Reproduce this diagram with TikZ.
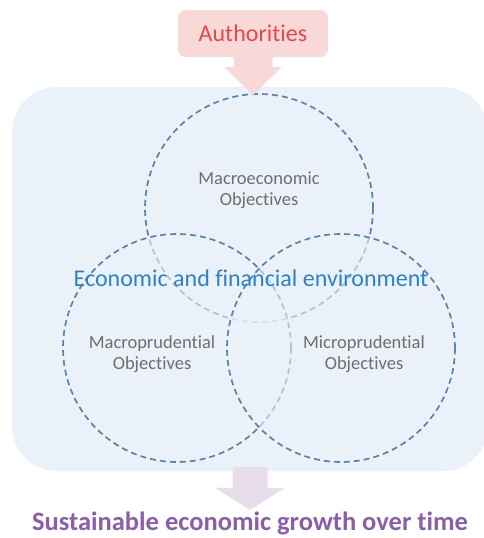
\documentclass[tikz,border=0pt]{standalone}
\usepackage{fontspec}
\setmainfont{Carlito}[Ligatures={NoCommon}]
\usepackage{xcolor}
\usetikzlibrary{positioning,calc}

\definecolor{envbg}{HTML}{EBF1F8}
\definecolor{ringblue}{HTML}{5A83AC}
\definecolor{labelgrey}{HTML}{6E6E6E}
\definecolor{envblue}{HTML}{2B83C6}
\definecolor{authred}{HTML}{E6474B}
\definecolor{authpink}{HTML}{F9D8D8}
\definecolor{goalpurple}{HTML}{8C5DA8}
\definecolor{goallilac}{HTML}{E8DEEB}

\begin{document}
\begin{tikzpicture}[
  x=1pt, y=-1pt,
  env/.style={fill=envbg, rounded corners=45pt, minimum width=476pt,
              minimum height=384pt, inner sep=0pt},
  ring/.style={circle, draw=ringblue, line width=1.7pt, dash pattern=on 6pt off 4pt,
               fill=envbg, fill opacity=0.6, minimum size=228pt, inner sep=0pt},
  obj/.style={text=labelgrey, align=center, font=\fontsize{18.5}{20.5}\selectfont},
  authbox/.style={fill=authpink, rounded corners=8pt, minimum width=150pt,
                  minimum height=47pt, text=authred, font=\fontsize{24}{28}\selectfont},
]
\useasboundingbox (0,0) rectangle (484,538);

% background and circles
\node[env] (envbox) at (250,279) {};
\node[ring] (macrocirc) at (259,208) {};
\node[ring] (leftcirc) at (177,348) {};
\node[ring] (rightcirc) at (341,348) {};

\node[obj] (macro) at (259,190) {Macroeconomic\\Objectives};
\node[obj] (macropru) at (152,354) {Macroprudential\\Objectives};
\node[obj] (micropru) at (364,354) {Microprudential\\Objectives};
\node[text=envblue, font=\fontsize{24}{28}\selectfont] (envtext) at (251,278)
  {Economic and financial environment};

% authorities on top
\node[authbox] (auth) at (253,33.5) {Authorities};
\fill[authpink] ($(auth.south)+(-19.5,0)$) -- ++(0,10) -- ++(-9,0)
  -- ($(auth.south)+(0,38)$) -- ($(auth.south)+(28.5,10)$) -- ++(-9,0)
  -- ($(auth.south)+(19.5,0)$) -- cycle;

% goal at the bottom
\node[text=goalpurple, font=\bfseries\fontsize{26.5}{30}\selectfont] (goal) at (250,523)
  {Sustainable economic growth over time};
\coordinate (tip) at ($(goal.north)+(0,2)$);
\fill[goallilac] ($(tip)+(-17.5,-43)$) -- ++(0,21) -- ++(-17.5,0)
  -- (tip) -- ($(tip)+(35,-22)$) -- ++(-17.5,0)
  -- ($(tip)+(17.5,-43)$) -- cycle;
\end{tikzpicture}
\end{document}
